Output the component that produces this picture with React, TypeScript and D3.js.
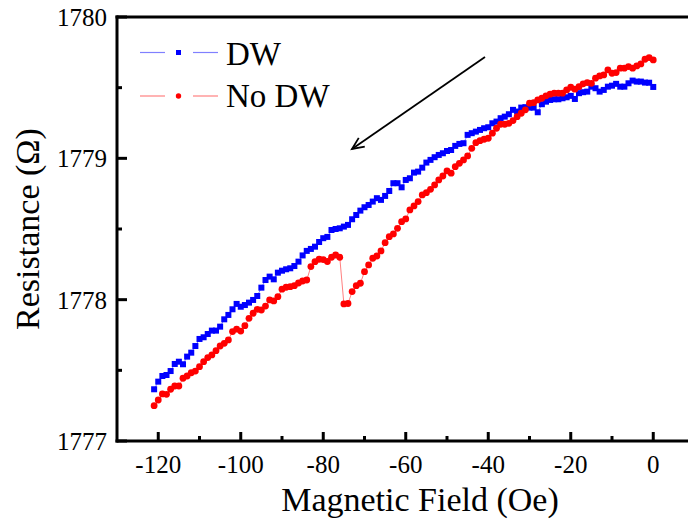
import React from "react";
import * as d3 from "d3";

// Magnetic field (Oe)
const field = [
  -121, -120, -119, -118, -117, -116, -115, -114, -113, -112, -111, -110, -109, -108, -107, -106, -105, -104, -103, -102, -101,
  -100, -99, -98, -97, -96, -95, -94, -93, -92, -91, -90, -89, -88, -87, -86, -85, -84, -83, -82, -81,
  -80, -79, -78, -77, -76, -75, -74, -73, -72, -71, -70, -69, -68, -67, -66, -65, -64, -63, -62, -61,
  -60, -59, -58, -57, -56, -55, -54, -53, -52, -51, -50, -49, -48, -47, -46, -45, -44, -43, -42, -41,
  -40, -39, -38, -37, -36, -35, -34, -33, -32, -31, -30, -29, -28, -27, -26, -25, -24, -23, -22, -21,
  -20, -19, -18, -17, -16, -15, -14, -13, -12, -11, -10, -9, -8, -7, -6, -5, -4, -3, -2, -1, 0,
];

// Resistance (Ω), with domain wall
const dwValues = [
  1777.366, 1777.420, 1777.460, 1777.467, 1777.495, 1777.545, 1777.561, 1777.543, 1777.597, 1777.625, 1777.672,
  1777.722, 1777.734, 1777.757, 1777.781, 1777.781, 1777.809, 1777.861, 1777.892, 1777.932, 1777.970,
  1777.950, 1777.962, 1777.979, 1777.998, 1778.026, 1778.085, 1778.139, 1778.163, 1778.144, 1778.191,
  1778.205, 1778.215, 1778.222, 1778.238, 1778.269, 1778.313, 1778.345, 1778.359, 1778.375, 1778.408,
  1778.435, 1778.444, 1778.493, 1778.500, 1778.505, 1778.517, 1778.529, 1778.569, 1778.599, 1778.630,
  1778.654, 1778.670, 1778.694, 1778.718, 1778.706, 1778.734, 1778.769, 1778.824, 1778.824, 1778.795,
  1778.847, 1778.859, 1778.899, 1778.906, 1778.934, 1778.970, 1778.989, 1779.008, 1779.024, 1779.036,
  1779.052, 1779.059, 1779.088, 1779.102, 1779.107, 1779.166, 1779.178, 1779.189, 1779.201, 1779.213,
  1779.220, 1779.248, 1779.260, 1779.284, 1779.295, 1779.312, 1779.343, 1779.331, 1779.359, 1779.362,
  1779.359, 1779.359, 1779.326, 1779.383, 1779.401, 1779.413, 1779.418, 1779.418, 1779.425, 1779.432,
  1779.442, 1779.420, 1779.461, 1779.468, 1779.472, 1779.507, 1779.496, 1779.472, 1779.484, 1779.507,
  1779.514, 1779.527, 1779.507, 1779.507, 1779.531, 1779.550, 1779.543, 1779.543, 1779.536, 1779.535, 1779.505,
];

// Resistance (Ω), without domain wall
const noDwValues = [
  1777.250, 1777.290, 1777.333, 1777.330, 1777.366, 1777.389, 1777.389, 1777.444, 1777.460, 1777.483, 1777.495,
  1777.526, 1777.561, 1777.590, 1777.609, 1777.639, 1777.672, 1777.691, 1777.715, 1777.774, 1777.791,
  1777.778, 1777.816, 1777.868, 1777.904, 1777.932, 1777.927, 1777.955, 1777.998, 1777.991, 1778.021,
  1778.074, 1778.088, 1778.092, 1778.099, 1778.118, 1778.132, 1778.139, 1778.234, 1778.269, 1778.286,
  1778.284, 1778.270, 1778.300, 1778.316, 1778.300, 1777.970, 1777.973, 1778.057, 1778.099, 1778.116,
  1778.198, 1778.246, 1778.293, 1778.309, 1778.345, 1778.403, 1778.446, 1778.465, 1778.505, 1778.552,
  1778.571, 1778.635, 1778.663, 1778.694, 1778.741, 1778.757, 1778.781, 1778.812, 1778.847, 1778.875,
  1778.911, 1778.895, 1778.941, 1778.965, 1778.989, 1779.017, 1779.071, 1779.111, 1779.125, 1779.135,
  1779.142, 1779.178, 1779.213, 1779.241, 1779.241, 1779.248, 1779.267, 1779.295, 1779.319, 1779.343,
  1779.390, 1779.394, 1779.413, 1779.425, 1779.442, 1779.454, 1779.461, 1779.461, 1779.461, 1779.484,
  1779.503, 1779.489, 1779.507, 1779.527, 1779.536, 1779.531, 1779.567, 1779.583, 1779.590, 1779.626,
  1779.602, 1779.607, 1779.638, 1779.638, 1779.649, 1779.638, 1779.654, 1779.668, 1779.701, 1779.713, 1779.696,
];

const xTicks = [-120, -100, -80, -60, -40, -20, 0];
const xMinorTicks = [-110, -90, -70, -50, -30, -10];
const yTicks = [1777, 1778, 1779, 1780];
const yMinorTicks = [1777.5, 1778.5, 1779.5];

const FONT = "'Liberation Serif', Tinos, 'Times New Roman', Times, 'DejaVu Serif', serif";

export default function App() {
  const x = d3.scaleLinear().domain([-130, 10]).range([117, 694.5]);
  const y = d3.scaleLinear().domain([1777, 1780]).range([441, 17]);

  const dwData = field.map((f, i) => [f, dwValues[i]] as [number, number]);
  const noDwData = field.map((f, i) => [f, noDwValues[i]] as [number, number]);

  const line = d3
    .line<[number, number]>()
    .x((d) => x(d[0]))
    .y((d) => y(d[1]));

  const blue = "#0000ff";
  const red = "#ff0000";
  const paleBlue = "#8080ff";
  const paleRed = "#ff8080";

  const txt = { fontFamily: FONT };

  return (
    <svg
      width={688}
      height={525}
      style={{ position: "absolute", left: 0, top: 0, background: "#fff" }}
    >
      <rect x={0} y={0} width={688} height={525} fill="#fff" />

      {/* series lines */}
      <path d={line(noDwData) || ""} fill="none" stroke={paleRed} strokeWidth={1} />
      <path d={line(dwData) || ""} fill="none" stroke={paleBlue} strokeWidth={1} />

      {/* markers */}
      {dwData.map((d, i) => (
        <rect key={"b" + i} x={x(d[0]) - 3} y={y(d[1]) - 3} width={6} height={6} fill={blue} />
      ))}
      {noDwData.map((d, i) => (
        <circle key={"r" + i} cx={x(d[0])} cy={y(d[1])} r={3.4} fill={red} />
      ))}

      {/* frame */}
      <line x1={117} x2={117} y1={15.5} y2={442.5} stroke="#000" strokeWidth={3} />
      <line x1={115.5} x2={700} y1={17} y2={17} stroke="#000" strokeWidth={3} />
      <line x1={115.5} x2={700} y1={441} y2={441} stroke="#000" strokeWidth={3} />

      {/* x ticks */}
      {xTicks.map((t) => (
        <g key={"xt" + t}>
          <line x1={x(t)} x2={x(t)} y1={441} y2={432} stroke="#000" strokeWidth={3} />
          <text x={x(t)} y={473} textAnchor="middle" style={txt} fontSize={25} fill="#000">
            {t}
          </text>
        </g>
      ))}
      {xMinorTicks.map((t) => (
        <line key={"xm" + t} x1={x(t)} x2={x(t)} y1={441} y2={436} stroke="#000" strokeWidth={3} />
      ))}

      {/* y ticks */}
      {yTicks.map((t) => (
        <g key={"yt" + t}>
          <line x1={117} x2={127} y1={y(t)} y2={y(t)} stroke="#000" strokeWidth={3} />
          <text x={107} y={y(t) + 9} textAnchor="end" style={txt} fontSize={25} fill="#000">
            {t}
          </text>
        </g>
      ))}
      {yMinorTicks.map((t) => (
        <line key={"ym" + t} x1={117} x2={122} y1={y(t)} y2={y(t)} stroke="#000" strokeWidth={3} />
      ))}

      {/* axis titles */}
      <text x={420} y={511} textAnchor="middle" style={txt} fontSize={34} fill="#000">
        Magnetic Field (Oe)
      </text>
      <text
        transform={`translate(39, 229) rotate(-90)`}
        textAnchor="middle"
        style={txt}
        fontSize={34}
        fill="#000"
      >
        Resistance (Ω)
      </text>

      {/* legend */}
      <line x1={140} x2={165} y1={52.5} y2={52.5} stroke={paleBlue} strokeWidth={1.2} />
      <line x1={193} x2={218} y1={52.5} y2={52.5} stroke={paleBlue} strokeWidth={1.2} />
      <rect x={176} y={50} width={5} height={5} fill={blue} />
      <text x={226} y={65} style={txt} fontSize={33} fill="#000">
        DW
      </text>
      <line x1={140} x2={165} y1={96} y2={96} stroke={paleRed} strokeWidth={1.2} />
      <line x1={193} x2={218} y1={96} y2={96} stroke={paleRed} strokeWidth={1.2} />
      <circle cx={178.5} cy={96} r={2.7} fill={red} />
      <text x={226} y={107} style={txt} fontSize={33} fill="#000">
        No DW
      </text>

      {/* arrow */}
      <line x1={485} y1={57} x2={352} y2={149} stroke="#000" strokeWidth={1.8} />
      {(() => {
        const ang = Math.atan2(149 - 57, 352 - 485);
        const len = 13;
        const spread = 0.42;
        const p1 = [352 - len * Math.cos(ang - spread), 149 - len * Math.sin(ang - spread)];
        const p2 = [352 - len * Math.cos(ang + spread), 149 - len * Math.sin(ang + spread)];
        return (
          <path
            d={`M${p1[0]},${p1[1]} L352,149 L${p2[0]},${p2[1]}`}
            fill="none"
            stroke="#000"
            strokeWidth={1.8}
          />
        );
      })()}
    </svg>
  );
}
